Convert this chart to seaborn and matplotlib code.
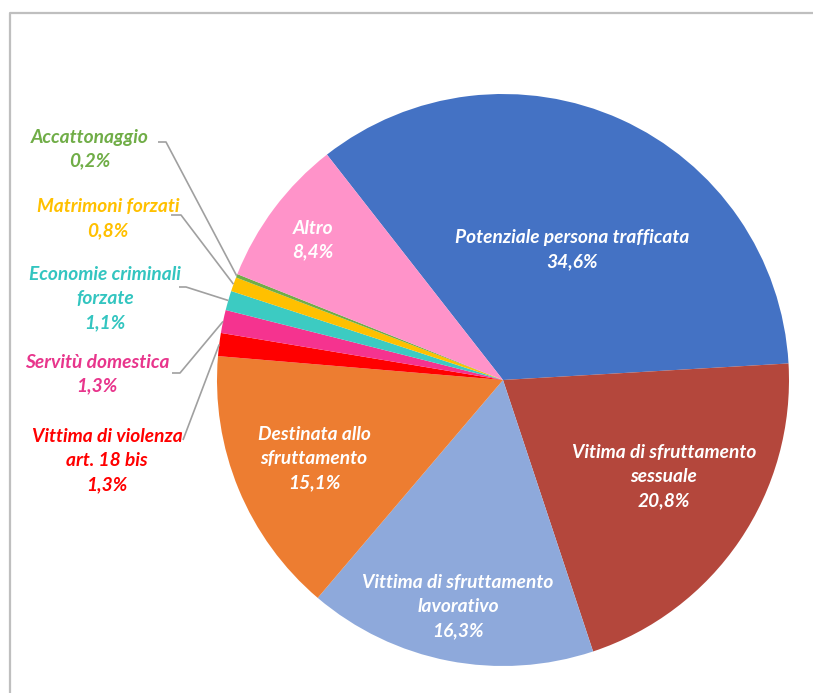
import numpy as np
import matplotlib
matplotlib.use("Agg")
import matplotlib.pyplot as plt
import seaborn as sns

sns.set_theme(style="white")
plt.rcParams["font.family"] = ["Lato", "DejaVu Sans"]

# Categories in drawing order (clockwise from the upper-left edge of the blue slice)
categories = [
    "Potenziale persona trafficata",
    "Vitima di sfruttamento sessuale",
    "Vittima di sfruttamento lavorativo",
    "Destinata allo sfruttamento",
    "Vittima di violenza art. 18 bis",
    "Servitù domestica",
    "Economie criminali forzate",
    "Matrimoni forzati",
    "Accattonaggio",
    "Altro",
]
shares = [34.6, 20.8, 16.3, 15.1, 1.3, 1.3, 1.1, 0.8, 0.2, 8.4]
colors = ["#4472C4", "#B4473C", "#8EA9DB", "#ED7D31", "#FF0000",
          "#F5338F", "#3CCBC2", "#FFC000", "#70AD47", "#FF93C9"]

# Label lines for each slice
label_lines = [
    ["Potenziale persona trafficata"],
    ["Vitima di sfruttamento", "sessuale"],
    ["Vittima di sfruttamento", "lavorativo"],
    ["Destinata allo", "sfruttamento"],
    ["Vittima di violenza", "art. 18 bis"],
    ["Servitù domestica"],
    ["Economie criminali", "forzate"],
    ["Matrimoni forzati"],
    ["Accattonaggio"],
    ["Altro"],
]
outside_colors = {4: "#FF0000", 5: "#E8358C", 6: "#33C5C0", 7: "#FFC000", 8: "#70AD47"}

W, H = 813, 693
fig = plt.figure(figsize=(W / 100, H / 100), dpi=100)
ax = fig.add_axes([0, 0, 1, 1])


def py(y):
    """Convert a top-down pixel row to the axes' bottom-up y."""
    return H - y


cx, cy, R = 503, py(380), 286
wedges, _ = ax.pie(shares, colors=colors, startangle=128, counterclock=False,
                   center=(cx, cy), radius=R,
                   wedgeprops=dict(linewidth=0))
ax.set_xlim(0, W)
ax.set_ylim(0, H)
ax.set_aspect("equal")
ax.axis("off")


def fmt(v):
    return f"{v:.1f}".replace(".", ",") + "%"


fs = 13.8
lh = 24
# Label anchor (x, top line y in pixels) for each slice
inside_pos = {0: (572, 238), 1: (664, 453), 2: (458, 583), 3: (314, 435), 9: (313, 228)}
outside_pos = {8: (90, 137), 7: (108, 207), 6: (105, 275), 5: (97, 362), 4: (107, 437)}

for i, (x, y0) in inside_pos.items():
    lines = label_lines[i] + [fmt(shares[i])]
    for k, t in enumerate(lines):
        ax.text(x, py(y0 + k * lh), t, ha="center", va="center", color="white",
                fontsize=fs, fontweight="bold", fontstyle="italic")

for i, (x, y0) in outside_pos.items():
    lines = label_lines[i] + [fmt(shares[i])]
    for k, t in enumerate(lines):
        ax.text(x, py(y0 + k * lh), t, ha="center", va="center", color=outside_colors[i],
                fontsize=fs, fontweight="bold", fontstyle="italic")

# Leader lines from each outside label to the rim of its slice
leader_start = {8: [(158, 142), (166, 142)], 7: [(171, 215), (181, 215)],
                6: [(179, 287), (186, 287)], 5: [(172, 373), (180, 373)],
                4: [(183, 440)]}
for i, pts in leader_start.items():
    w = wedges[i]
    mid = np.deg2rad((w.theta1 + w.theta2) / 2)
    ex, ey = cx + R * np.cos(mid), cy + R * np.sin(mid)
    xs = [p[0] for p in pts] + [ex]
    ys = [py(p[1]) for p in pts] + [ey]
    ax.plot(xs, ys, color="#A0A0A0", lw=1.2, solid_capstyle="butt")

# Outer frame: top and left borders only
ax.plot([10, 10, W + 10], [-10, py(13), py(13)], color="#BFBFBF", lw=1.6,
        clip_on=False)

fig.savefig("out.png", dpi=100)
